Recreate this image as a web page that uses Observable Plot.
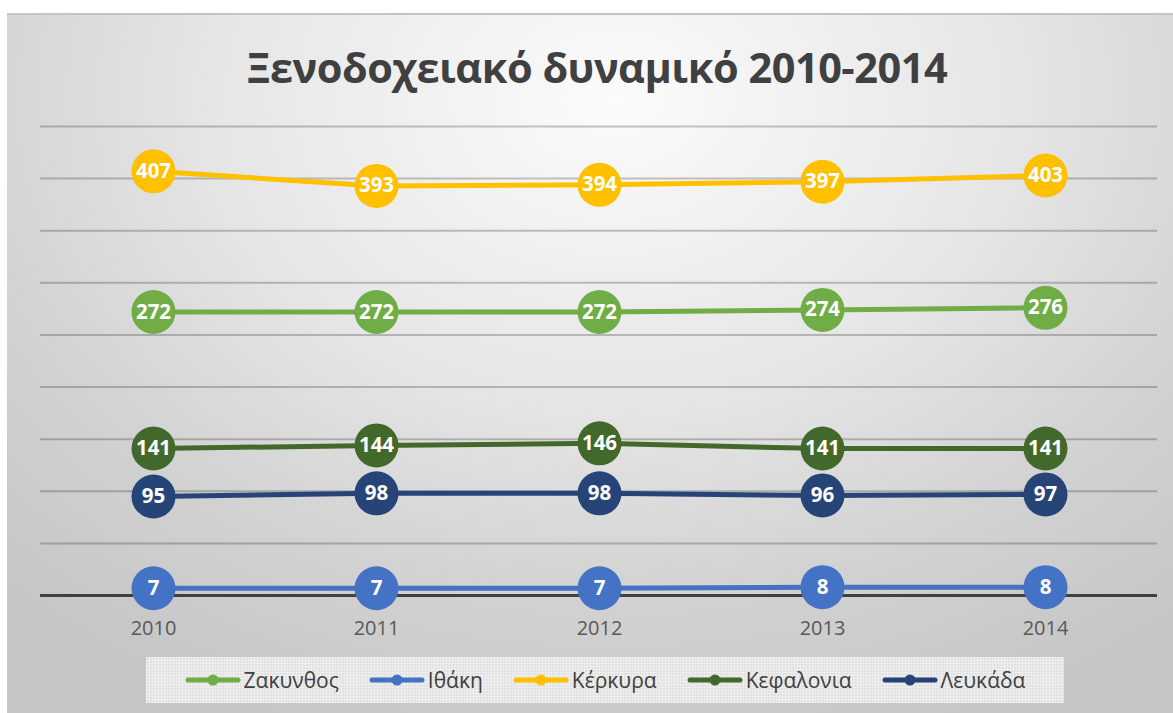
<!DOCTYPE html>
<html>
<head>
<meta charset="utf-8">
<script src="https://cdn.jsdelivr.net/npm/d3@7"></script>
<script src="https://cdn.jsdelivr.net/npm/@observablehq/plot@0.6"></script>
<style>
  html, body { margin: 0; padding: 0; background: #ffffff; }
  #frame {
    position: absolute; left: 7px; top: 13px; width: 1166px; height: 700px;
    border-top: 2px solid #c4c4c4;
    box-sizing: border-box;
    background: radial-gradient(ellipse 75% 95% at 52% 12%, #fbfbfb 0%, #e6e6e6 45%, #d2d2d2 75%, #c6c6c6 100%);
    font-family: "Open Sans", "Noto Sans", sans-serif;
  }
  #title {
    position: absolute; left: 7px; width: 100%; top: 24px; text-align: center;
    font-size: 41.5px; font-weight: 700; color: #404040; letter-spacing: -0.5px;
    white-space: nowrap;
  }
  #chart { position: absolute; left: 0; top: 85px; }
  #legend {
    position: absolute; left: 139px; top: 642px; width: 918px; height: 46px;
    background-color: #e2e2e2;
    background-image: repeating-linear-gradient(0deg, rgba(255,255,255,0.35) 0 1px, transparent 1px 3px),
                      repeating-linear-gradient(90deg, rgba(255,255,255,0.35) 0 1px, transparent 1px 3px);
    display: flex; align-items: center; justify-content: center; gap: 30px;
    font-size: 21px; color: #404040;
  }
  .item { display: flex; align-items: center; gap: 3px; }
</style>
</head>
<body>
<div id="frame">
  <div id="title">Ξενοδοχειακό δυναμικό 2010-2014</div>
  <div id="chart"></div>
  <div id="legend"></div>
</div>
<script>
const years = [2010, 2011, 2012, 2013, 2014];
const seriesNames = ["Ζακυνθος", "Ιθάκη", "Κέρκυρα", "Κεφαλονια", "Λευκάδα"];
const seriesColors = ["#70ad47", "#4472c4", "#ffc000", "#43682b", "#264478"];
const zakynthos = [272, 272, 272, 274, 276];
const ithaki = [7, 7, 7, 8, 8];
const kerkyra = [407, 393, 394, 397, 403];
const kefalonia = [141, 144, 146, 141, 141];
const lefkada = [95, 98, 98, 96, 97];
const gridValues = [50, 100, 150, 200, 250, 300, 350, 400, 450];

const allSeries = [zakynthos, ithaki, kerkyra, kefalonia, lefkada];
const data = [];
seriesNames.forEach((name, i) => {
  years.forEach((yr, j) => data.push({series: name, year: yr, value: allSeries[i][j]}));
});

const chart = Plot.plot({
  width: 1166,
  height: 560,
  marginTop: 26,
  marginBottom: 65,
  marginLeft: 33,
  marginRight: 16,
  style: {background: "transparent", fontFamily: "'Open Sans', 'Noto Sans', sans-serif", fontSize: "20px", overflow: "visible"},
  x: {type: "point", domain: years, padding: 0.5, label: null},
  y: {domain: [0, 450], axis: null},
  color: {domain: seriesNames, range: seriesColors},
  marks: [
    Plot.ruleY(gridValues, {stroke: "#000", strokeOpacity: 0.22, strokeWidth: 2}),
    Plot.ruleY([0], {stroke: "#404040", strokeWidth: 3}),
    Plot.line(data, {x: "year", y: "value", z: "series", stroke: "series", strokeWidth: 5}),
    Plot.dot(data, {x: "year", y: "value", fill: "series", r: 22, stroke: "none"}),
    Plot.text(data, {x: "year", y: "value", text: d => String(d.value), fill: "white", fontSize: 20.5, fontWeight: 700}),
    Plot.axisX({tickSize: 0, tickPadding: 25, fontSize: 20, fill: "#595959", tickFormat: d => String(d), label: null})
  ]
});
document.getElementById("chart").appendChild(chart);

const legend = document.getElementById("legend");
seriesNames.forEach((name, i) => {
  const item = document.createElement("div");
  item.className = "item";
  item.innerHTML = `<svg width="56" height="14"><line x1="3" y1="7" x2="53" y2="7" stroke="${seriesColors[i]}" stroke-width="5" stroke-linecap="round"/><circle cx="28" cy="7" r="5.5" fill="${seriesColors[i]}"/></svg><span>${name}</span>`;
  legend.appendChild(item);
});
</script>
</body>
</html>
